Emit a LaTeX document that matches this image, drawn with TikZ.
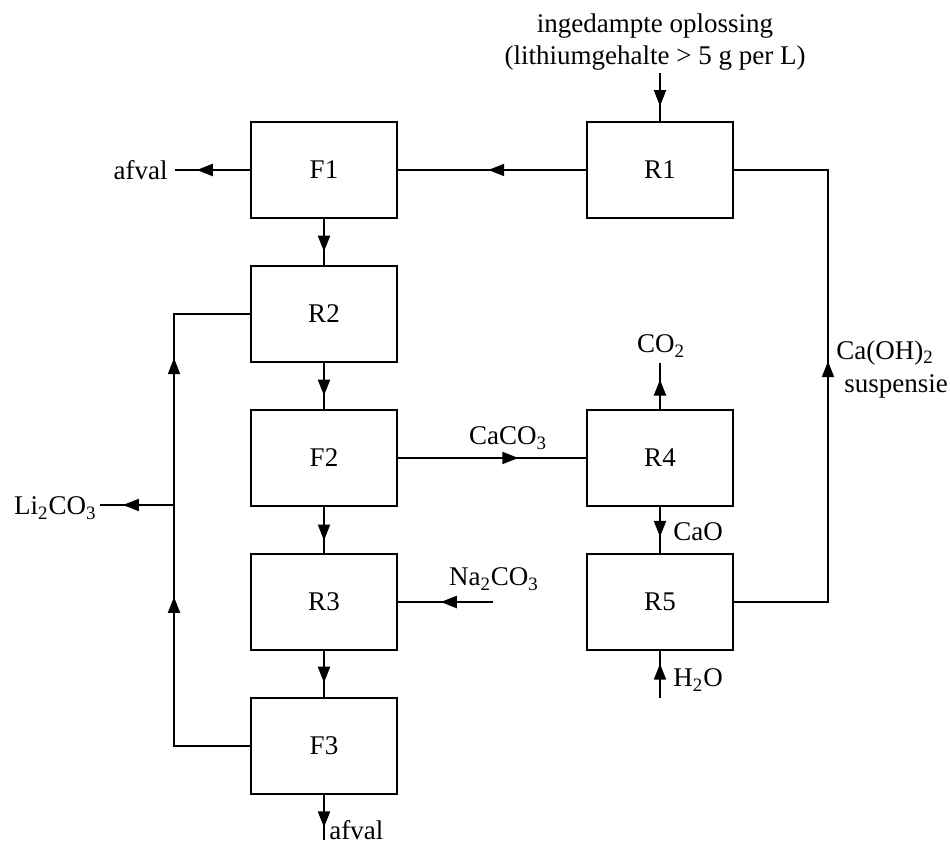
\documentclass[tikz,border=0pt]{standalone}
\usepackage{fontspec}
\setmainfont{Liberation Serif}
\usetikzlibrary{arrows.meta,decorations.markings}
\tikzset{
  unit/.style={draw, line width=1pt, minimum width=73pt, minimum height=48pt, inner sep=0pt},
  flow/.style={line width=1pt, postaction={decorate},
    decoration={markings, mark=at position #1 with {\arrow{Triangle[length=8pt,width=6pt]}}}},
  tag/.style={inner sep=1pt}
}
\begin{document}
\begin{tikzpicture}[x=0.5pt,y=-0.5pt,font=\fontsize{13.5}{16}\selectfont]
\useasboundingbox (0,0) rectangle (950,845);

\node[unit] (R1) at (660,170) {R1};
\node[unit] (F1) at (324,170) {F1};
\node[unit] (R2) at (324,314) {R2};
\node[unit] (F2) at (324,458) {F2};
\node[unit] (R3) at (324,602) {R3};
\node[unit] (F3) at (324,746) {F3};
\node[unit] (R4) at (660,458) {R4};
\node[unit] (R5) at (660,602) {R5};

\node[tag, align=center] (feed) at (655,42) {ingedampte oplossing\\(lithiumgehalte > 5 g per L)};
\node[tag, anchor=east] (waste1) at (170,170) {afval};
\node[tag, anchor=base west] (waste3) at (327,840) {afval};
\node[tag, anchor=east] (li) at (99,508) {Li\textsubscript{2}CO\textsubscript{3}};
\node[tag] (caco) at (508,438) {CaCO\textsubscript{3}};
\node[tag] (naco) at (494,579) {Na\textsubscript{2}CO\textsubscript{3}};
\node[tag] (co) at (661,346) {CO\textsubscript{2}};
\node[tag, anchor=west] (cao) at (671,532) {CaO};
\node[tag, anchor=west] (water) at (671,680) {H\textsubscript{2}O};
\node[tag, anchor=west] (caoh) at (834,353) {Ca(OH)\textsubscript{2}};
\node[tag, anchor=west] (susp) at (842,386) {suspensie};

\coordinate (in1) at (660,73);
\coordinate (out1) at (175,170);
\coordinate (out3) at (324,840);
\coordinate (J) at (174,505);
\coordinate (outLi) at (100,505);
\coordinate (inNa) at (493,602);
\coordinate (outCO) at (660,363);
\coordinate (inW) at (660,698);
\coordinate (E) at (828,602);

\draw[flow=0.69] (in1) -- (R1);
\draw[flow=0.52] (R1) -- (F1);
\draw[flow=0.71] (F1) -- (out1);
\draw[flow=0.71] (F1) -- (R2);
\draw[flow=0.71] (R2) -- (F2);
\draw[flow=0.73] (F2) -- (R3);
\draw[flow=0.69] (R3) -- (F3);
\draw[flow=0.72] (F3) -- (out3);
\draw[flow=0.71] (F3) -| (J);
\draw[flow=0.55] (J) |- (R2);
\draw[flow=0.69] (J) -- (outLi);
\draw[flow=0.64] (F2) -- (R4);
\draw[flow=0.55] (inNa) -- (R3);
\draw[flow=0.64] (R4) -- (outCO);
\draw[flow=0.65] (R4) -- (R5);
\draw[flow=0.73] (inW) -- (R5);
\draw[flow=0.54] (R5) -- (E) |- (R1);

\end{tikzpicture}
\end{document}
